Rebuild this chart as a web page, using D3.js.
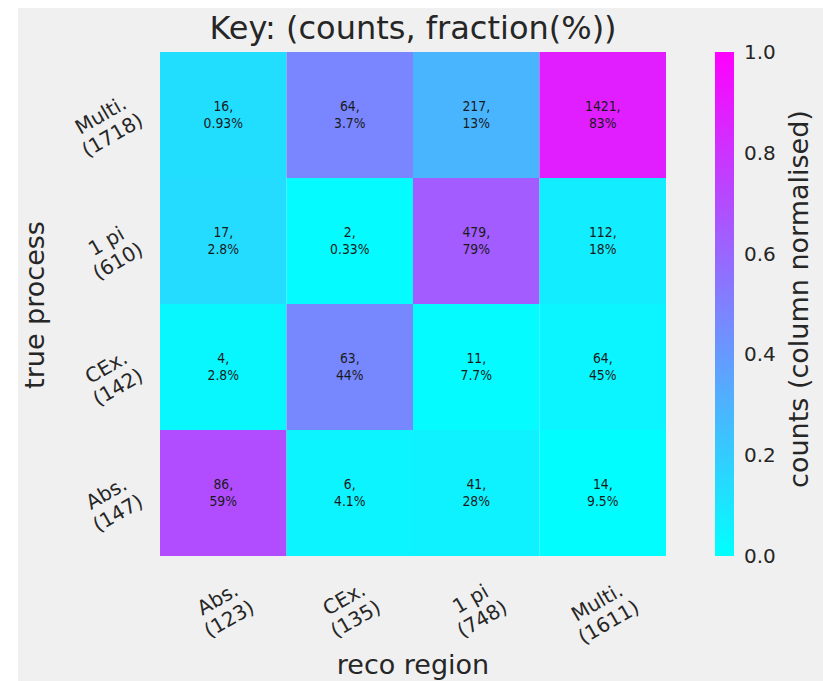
<!DOCTYPE html>
<html>
<head>
<meta charset="utf-8">
<script src="https://cdn.jsdelivr.net/npm/d3@7"></script>
<style>
  html, body { margin: 0; padding: 0; background: #ffffff; }
  svg { display: block; }
  text { font-family: "DejaVu Sans", sans-serif; fill: #262626; }
</style>
</head>
<body>
<svg id="chart" width="823" height="681"></svg>
<script>
// ---- data ----
const recoRegions = ["Abs.", "CEx.", "1 pi", "Multi."];        // columns (x)
const recoTotals  = [123, 135, 748, 1611];
const trueProcesses = ["Abs.", "CEx.", "1 pi", "Multi."];      // rows (y, bottom to top)
const trueTotals    = [147, 142, 610, 1718];
// counts[row = true process][col = reco region]
const countsAbs   = [86, 6, 41, 14];
const countsCEx   = [4, 63, 11, 64];
const countsOnePi = [17, 2, 479, 112];
const countsMulti = [16, 64, 217, 1421];
// fraction (%) text shown in each cell (row normalised)
const fracAbs   = ["59", "4.1", "28", "9.5"];
const fracCEx   = ["2.8", "44", "7.7", "45"];
const fracOnePi = ["2.8", "0.33", "79", "18"];
const fracMulti = ["0.93", "3.7", "13", "83"];
const colorbarTicks = [0, 0.2, 0.4, 0.6, 0.8, 1.0];

const counts = [countsAbs, countsCEx, countsOnePi, countsMulti];
const fracs  = [fracAbs, fracCEx, fracOnePi, fracMulti];

const cells = [];
trueProcesses.forEach((t, r) => {
  recoRegions.forEach((c, k) => {
    cells.push({ row: t, col: c, count: counts[r][k], frac: fracs[r][k],
                 norm: counts[r][k] / recoTotals[k] });
  });
});

// ---- layout ----
const svg = d3.select("#chart");
svg.append("rect").attr("x", 18).attr("y", 8).attr("width", 823 - 18).attr("height", 681 - 8)
   .attr("fill", "#f0f0f0");

const plot = { left: 160, right: 666, top: 52, bottom: 556 };
const x = d3.scaleBand().domain(recoRegions).range([plot.left, plot.right]);
const y = d3.scaleBand().domain(trueProcesses).range([plot.bottom, plot.top]);
const cool = d3.interpolateRgb("#00ffff", "#ff00ff");
const color = d3.scaleSequential(cool).domain([0, 1]);

// cells
svg.append("g").selectAll("rect").data(cells).join("rect")
  .attr("x", d => x(d.col)).attr("y", d => y(d.row))
  .attr("width", x.bandwidth()).attr("height", y.bandwidth())
  .attr("fill", d => color(d.norm));

// cell labels
const cellText = svg.append("g").selectAll("text").data(cells).join("text")
  .attr("text-anchor", "middle")
  .style("font-size", "13.5px").style("fill", "#1a1a1a")
  .attr("transform", d => `translate(${x(d.col) + x.bandwidth() / 2},${y(d.row) + y.bandwidth() / 2}) scale(0.92,1)`);
cellText.append("tspan").attr("x", 0).attr("y", -4).text(d => d.count + ",");
cellText.append("tspan").attr("x", 0).attr("y", 13).text(d => d.frac + "%");

// x tick labels (rotated)
recoRegions.forEach((c, k) => {
  const g = svg.append("g");
  const t = g.append("text").attr("text-anchor", "middle").style("font-size", "20px")
    .attr("transform", "rotate(-30)");
  t.append("tspan").attr("x", 0).attr("y", 0).text(c);
  t.append("tspan").attr("x", 0).attr("y", 23).text("(" + recoTotals[k] + ")");
  const bb = g.node().getBBox();
  const cx = x(c) + x.bandwidth() / 2;
  g.attr("transform", `translate(${cx - (bb.x + bb.width / 2)},${575 - bb.y})`);
});

// y tick labels (rotated)
trueProcesses.forEach((t0, r) => {
  const g = svg.append("g");
  const t = g.append("text").attr("text-anchor", "middle").style("font-size", "20px")
    .attr("transform", "rotate(-30)");
  t.append("tspan").attr("x", 0).attr("y", 0).text(t0);
  t.append("tspan").attr("x", 0).attr("y", 23).text("(" + trueTotals[r] + ")");
  const bb = g.node().getBBox();
  const cy = y(t0) + y.bandwidth() / 2 + 10;
  g.attr("transform", `translate(${147 - (bb.x + bb.width)},${cy - (bb.y + bb.height / 2)})`);
});

// title and axis labels
svg.append("text").attr("x", (plot.left + plot.right) / 2).attr("y", 39)
  .attr("text-anchor", "middle").style("font-size", "32px")
  .text("Key: (counts, fraction(%))");
svg.append("text").attr("x", (plot.left + plot.right) / 2).attr("y", 674)
  .attr("text-anchor", "middle").style("font-size", "27px").text("reco region");
svg.append("text").attr("transform", "translate(44,305) rotate(-90)")
  .attr("text-anchor", "middle").style("font-size", "27px").text("true process");

// colorbar
const cb = { x: 715, w: 19 };
const cy = d3.scaleLinear().domain([0, 1]).range([plot.bottom, plot.top]);
const defs = svg.append("defs");
const grad = defs.append("linearGradient").attr("id", "cbgrad")
  .attr("x1", 0).attr("y1", 1).attr("x2", 0).attr("y2", 0);
d3.range(0, 1.0001, 0.1).forEach(v => {
  grad.append("stop").attr("offset", v).attr("stop-color", color(v));
});
svg.append("rect").attr("x", cb.x).attr("y", cy(1)).attr("width", cb.w)
  .attr("height", cy(0) - cy(1)).attr("fill", "url(#cbgrad)");
const cbAxis = d3.axisRight(cy).tickValues(colorbarTicks).tickFormat(d3.format(".1f"))
  .tickSize(0).tickPadding(10);
const cbg = svg.append("g").attr("transform", `translate(${cb.x + cb.w},0)`).call(cbAxis);
cbg.select(".domain").remove();
cbg.selectAll("text").style("font-size", "20px").style("font-family", "DejaVu Sans")
  .attr("fill", "#262626");
svg.append("text").attr("transform", "translate(808,299) rotate(-90)")
  .attr("text-anchor", "middle").style("font-size", "27px").text("counts (column normalised)");
</script>
</body>
</html>
